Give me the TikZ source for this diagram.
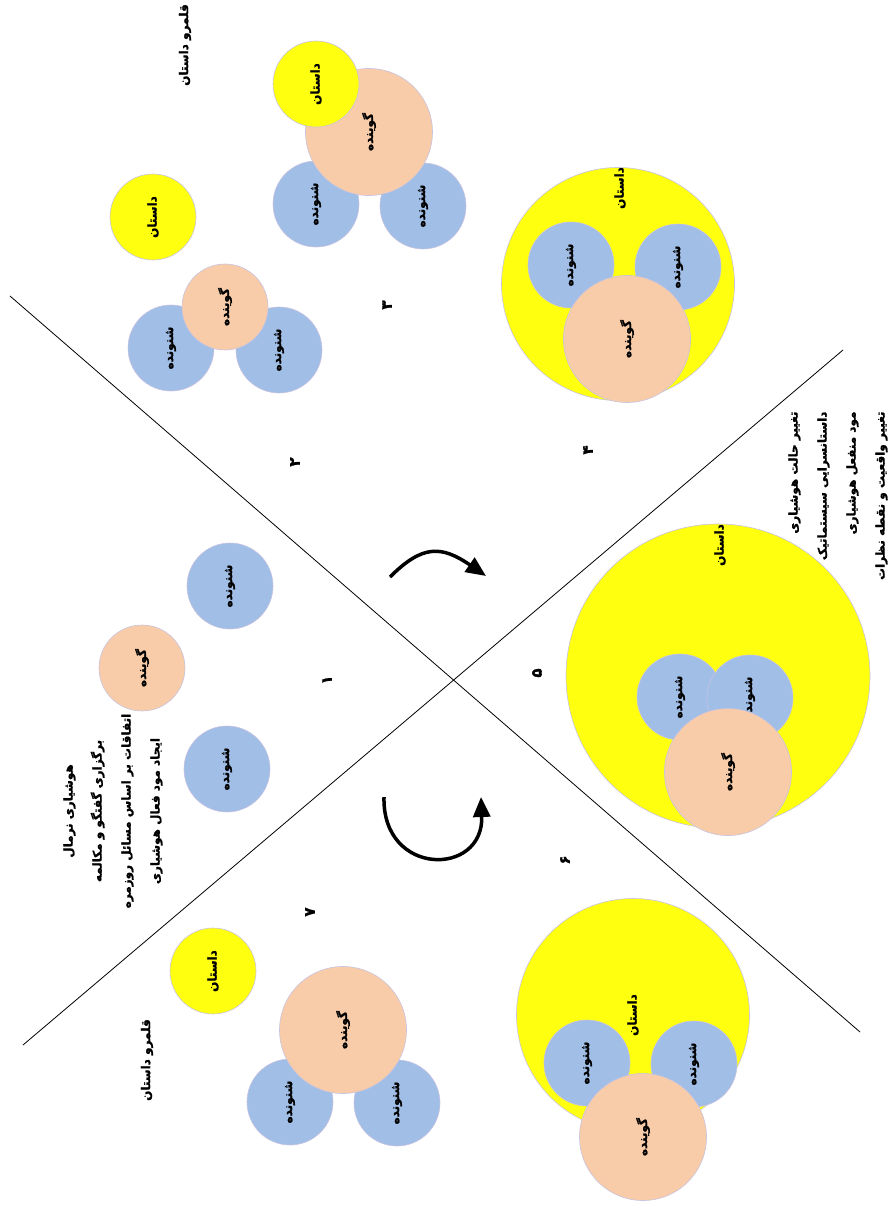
\documentclass[tikz,border=0pt]{standalone}
\usepackage{fontspec}
\newfontfamily\farsi[Script=Arabic, BoldFeatures={FakeBold=1.5}]{DejaVu Sans}
\TeXXeTstate=1
\usetikzlibrary{arrows.meta}
\definecolor{listenerblue}{RGB}{160,190,230}
\definecolor{speakerpeach}{RGB}{248,204,168}
\definecolor{storyyellow}{RGB}{255,255,16}
\definecolor{rimlilac}{RGB}{200,195,225}
\newcommand{\fatext}[1]{\beginR #1\endR}
\tikzset{
    disc/.style={circle, draw=rimlilac, line width=0.6pt, inner sep=0pt, rotate=90, font=\farsi\bfseries\fontsize{12}{14}\selectfont},
    listener/.style={disc, fill=listenerblue, minimum size=86pt},
    speaker/.style={disc, fill=speakerpeach, minimum size=86pt},
    bigspeaker/.style={disc, fill=speakerpeach, minimum size=127pt},
    story/.style={disc, fill=storyyellow, minimum size=86pt},
    bigstory/.style={disc, fill=storyyellow, minimum size=233pt},
    hugestory/.style={disc, fill=storyyellow, minimum size=304pt},
    tag/.style={rotate=90, font=\farsi\bfseries\fontsize{12}{14}\selectfont},
    note/.style={rotate=90, font=\farsi\bfseries\fontsize{12}{29}\selectfont},
    num/.style={rotate=90, font=\farsi\bfseries\fontsize{15}{15}\selectfont},
    divider/.style={line width=0.8pt},
    turn/.style={-{Triangle[length=20pt,width=17pt]}, line width=3.5pt},
}
\begin{document}
\begin{tikzpicture}[x=1pt, y=-1pt]
    \useasboundingbox (0,0) rectangle (890,1212);
    % dividers
    \coordinate (d1a) at (10,296);
    \coordinate (d1b) at (860,1032);
    \coordinate (d2a) at (843,350);
    \coordinate (d2b) at (23,1045);
    \draw[divider] (d1a) -- (d1b);
    \draw[divider] (d2a) -- (d2b);

    % top zone: 2 and 3
    \node[tag] (realm1) at (185,45) {\fatext{قلمرو داستان}};
    \node[listener] (l2a) at (171,348) {\fatext{شنونده}};
    \node[listener] (l2b) at (279,350) {\fatext{شنونده}};
    \node[speaker] (sp2) at (225,307) {\fatext{گوینده}};
    \node[story] (st2) at (153,217) {\fatext{داستان}};
    \node[listener] (l3a) at (316,204) {\fatext{شنونده}};
    \node[listener] (l3b) at (423,206) {\fatext{شنونده}};
    \node[bigspeaker] (sp3) at (369,132) {\fatext{گوینده}};
    \node[story] (st3) at (316,84) {\fatext{داستان}};
    \node[num] (n2) at (295,462) {\fatext{۲}};
    \node[num] (n3) at (387,305) {\fatext{۳}};

    % group 4
    \node[bigstory] (st4) at (618,284) {};
    \node[tag] (st4t) at (620,188) {\fatext{داستان}};
    \node[listener] (l4a) at (571,265) {\fatext{شنونده}};
    \node[listener] (l4b) at (678,267) {\fatext{شنونده}};
    \node[bigspeaker] (sp4) at (627,339) {\fatext{گوینده}};
    \node[num] (n4) at (588,450) {\fatext{۴}};

    % group 1
    \node[listener] (l1a) at (230,586) {\fatext{شنونده}};
    \node[speaker] (sp1) at (142,668) {\fatext{گوینده}};
    \node[listener] (l1b) at (227,769) {\fatext{شنونده}};
    \node[num] (n1) at (327,680) {\fatext{۱}};
    \node[note, align=center] (awake) at (113,811) {\fatext{هوشیاری نرمال}\\\fatext{برگزاری گفتگو و مکالمه}\\\fatext{اتفاقات بر اساس مسائل روزمره}\\\fatext{ایجاد مود فعال هوشیاری}};

    % group 5
    \node[hugestory] (st5) at (718,676) {};
    \node[tag] (st5t) at (720,545) {\fatext{داستان}};
    \node[listener] (l5a) at (680,697) {\fatext{شنونده}};
    \node[listener] (l5b) at (750,698) {\fatext{شنونده}};
    \node[bigspeaker] (sp5) at (728,772) {\fatext{گوینده}};
    \node[num] (n5) at (537,673) {\fatext{۵}};
    \node[note, align=right, anchor=east] (trance) at (838,408) {\fatext{تغییر حالت هوشیاری}\\\fatext{داستانسرایی سیستماتیک}\\\fatext{مود منفعل هوشیاری}\\\fatext{تغییر واقعیت و نقطه نظرات}};

    % group 6
    \node[bigstory] (st6) at (633,1015) {};
    \node[tag] (st6t) at (633,1015) {\fatext{داستان}};
    \node[listener] (l6a) at (587,1063) {\fatext{شنونده}};
    \node[listener] (l6b) at (694,1064) {\fatext{شنونده}};
    \node[bigspeaker] (sp6) at (643,1137) {\fatext{گوینده}};
    \node[num] (n6) at (565,860) {\fatext{۶}};

    % group 7
    \node[tag] (realm7) at (147,1060) {\fatext{قلمرو داستان}};
    \node[story] (st7) at (213,971) {\fatext{داستان}};
    \node[listener] (l7a) at (290,1102) {\fatext{شنونده}};
    \node[listener] (l7b) at (397,1103) {\fatext{شنونده}};
    \node[bigspeaker] (sp7) at (343,1030) {\fatext{گوینده}};
    \node[num] (n7) at (310,912) {\fatext{۷}};

    % turning arrows
    \coordinate (ta) at (390,577);
    \coordinate (tb) at (486,576);
    \coordinate (ba) at (384,797);
    \coordinate (bb) at (481,797);
    \draw[turn] (ta) .. controls (422,545) and (441,545) .. (tb);
    \draw[turn] (ba) .. controls (382,877) and (484,877) .. (bb);
\end{tikzpicture}
\end{document}
